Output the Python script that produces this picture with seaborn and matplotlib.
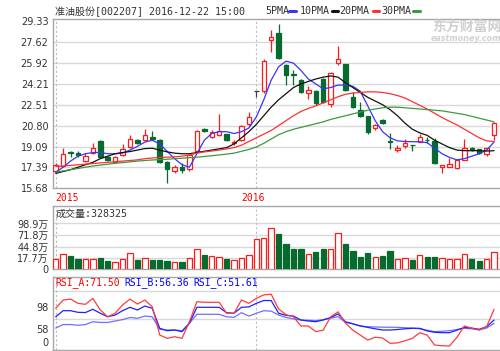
import numpy as np
import pandas as pd
import matplotlib
matplotlib.use("Agg")
import matplotlib.pyplot as plt
import matplotlib.transforms as mtrans
from matplotlib.lines import Line2D
import seaborn as sns

# =========================================================
# DONNÉES
# =========================================================
opens = [17.11, 17.50, 18.63, 18.58, 17.93, 18.53, 19.56, 18.26, 17.81, 18.39,
         19.07, 19.62, 19.62, 19.89, 19.62, 17.81, 17.09, 17.39, 17.23, 18.74,
         20.54, 19.89, 20.02, 20.08, 19.35, 19.62, 20.89, 23.60, 23.65, 27.78,
         28.36, 25.73, 25.00, 24.50, 23.44, 23.62, 24.58, 22.52, 25.93, 25.81,
         23.15, 22.03, 21.56, 20.59, 21.24, 19.50, 18.81, 19.13, 19.22, 19.48,
         19.64, 19.55, 17.44, 17.44, 17.31, 17.99, 19.00, 18.86, 18.48, 20.05]
closes = [17.58, 18.48, 18.58, 18.39, 18.34, 19.00, 18.26, 17.99, 18.26, 18.86,
          19.67, 19.35, 20.02, 19.70, 17.81, 17.24, 17.44, 17.17, 18.39, 20.35,
          20.37, 20.29, 20.37, 19.62, 19.48, 20.76, 21.46, 23.60, 26.10, 28.00,
          26.33, 24.92, 24.94, 23.55, 23.71, 22.61, 22.69, 25.10, 26.26, 23.70,
          22.33, 21.62, 20.25, 20.81, 20.97, 19.45, 19.00, 19.35, 19.18, 19.84,
          19.60, 17.72, 17.58, 17.64, 17.99, 19.00, 18.80, 18.53, 18.94, 21.00]
highs = [17.77, 18.94, 18.72, 18.74, 18.60, 19.35, 19.60, 18.35, 18.35, 19.28,
         20.02, 19.70, 20.51, 20.37, 19.70, 17.90, 17.60, 17.72, 18.50, 20.40,
         20.60, 20.45, 21.73, 20.15, 19.62, 20.85, 21.93, 23.62, 26.20, 28.60,
         29.07, 25.80, 25.33, 24.60, 24.03, 23.70, 24.65, 25.15, 27.30, 25.85,
         23.55, 22.74, 21.60, 20.95, 21.30, 20.17, 19.21, 19.67, 19.25, 20.10,
         19.89, 19.75, 17.60, 18.17, 18.05, 19.67, 19.05, 18.90, 19.00, 21.05]
lows = [16.90, 17.44, 18.26, 18.26, 17.85, 18.45, 18.20, 17.90, 17.75, 18.35,
        19.00, 19.30, 19.55, 19.60, 17.72, 16.14, 16.95, 16.90, 17.10, 18.70,
        20.30, 19.80, 19.95, 19.50, 19.20, 19.55, 20.80, 23.13, 23.47, 26.80,
        26.20, 24.10, 24.10, 23.45, 23.00, 22.50, 22.60, 22.33, 25.73, 23.60,
        22.25, 21.50, 20.15, 20.45, 20.90, 18.90, 18.67, 18.94, 18.74, 19.45,
        19.35, 17.65, 16.90, 17.40, 17.28, 17.95, 18.70, 18.45, 18.30, 19.60]

ma5 = [17.0, 17.4, 17.9, 18.3, 18.5, 18.6, 18.6, 18.5, 18.5, 18.55,
       18.8, 19.1, 19.45, 19.6, 19.3, 18.7, 18.1, 17.6, 17.4, 18.5,
       19.6, 20.15, 20.3, 20.3, 20.15, 20.3, 20.6, 21.5, 22.9, 24.5,
       25.6, 26.05, 25.9, 25.3, 24.6, 24.2, 23.8, 23.9, 24.1, 24.1,
       24.0, 23.6, 22.4, 21.2, 20.3, 19.8, 19.55, 19.5, 19.48, 19.48,
       19.4, 18.95, 18.5, 18.2, 18.0, 18.1, 18.3, 18.5, 18.8, 19.45]
ma10 = [16.9, 17.05, 17.2, 17.4, 17.6, 17.8, 18.1, 18.3, 18.5, 18.6,
        18.68, 18.8, 18.92, 18.95, 18.8, 18.65, 18.55, 18.5, 18.5, 18.6,
        18.7, 18.8, 18.9, 19.0, 19.3, 19.8, 20.3, 20.9, 21.6, 22.3,
        22.9, 23.4, 23.9, 24.2, 24.4, 24.6, 24.75, 24.85, 24.75, 24.3,
        23.9, 23.5, 23.1, 22.8, 22.5, 22.1, 21.6, 21.0, 20.5, 20.2,
        20.0, 19.6, 19.3, 19.0, 18.8, 18.75, 18.75, 18.75, 18.72, 18.75]
ma20 = [17.45, 17.5, 17.55, 17.6, 17.65, 17.7, 17.75, 17.8, 17.85, 17.9,
        17.95, 18.0, 18.1, 18.15, 18.2, 18.22, 18.25, 18.3, 18.4, 18.55,
        18.65, 18.72, 18.8, 18.9, 19.0, 19.2, 19.5, 19.8, 20.1, 20.4,
        20.8, 21.2, 21.6, 21.95, 22.2, 22.4, 22.65, 22.9, 23.15, 23.35,
        23.45, 23.5, 23.55, 23.55, 23.5, 23.4, 23.25, 23.05, 22.75, 22.45,
        22.15, 21.8, 21.45, 21.15, 20.85, 20.5, 20.15, 19.8, 19.55, 19.5]
ma30 = [17.0, 17.1, 17.2, 17.3, 17.4, 17.5, 17.57, 17.65, 17.72, 17.78,
        17.84, 17.9, 17.95, 17.99, 18.02, 18.05, 18.1, 18.13, 18.18, 18.22,
        18.28, 18.34, 18.4, 18.47, 18.55, 18.7, 18.85, 19.05, 19.35, 19.7,
        20.05, 20.3, 20.5, 20.65, 20.8, 20.95, 21.1, 21.3, 21.45, 21.6,
        21.75, 21.9, 22.05, 22.15, 22.25, 22.3, 22.3, 22.25, 22.2, 22.15,
        22.1, 22.05, 22.0, 21.9, 21.8, 21.7, 21.55, 21.4, 21.25, 21.1]

# volume en 万
volume = [15.4, 27.7, 23.8, 16.1, 16.1, 16.1, 19.1, 12.1, 9.8, 16.1,
          29.4, 13.8, 19.1, 14.5, 14.5, 12.1, 9.1, 9.8, 19.1, 38.7,
          26.1, 23.1, 21.4, 15.4, 13.1, 19.1, 25.4, 62.0, 64.3, 87.6,
          74.4, 51.0, 39.4, 39.4, 27.7, 32.4, 38.7, 38.7, 77.4, 51.0,
          35.4, 21.4, 30.8, 21.4, 23.8, 34.7, 16.9, 18.4, 14.9, 26.1,
          19.6, 21.4, 19.1, 16.8, 16.8, 28.2, 17.2, 12.1, 17.2, 32.8]

rsi_a = [73, 84.7, 86, 80, 78.6, 87, 70.6, 61, 66, 77.7,
         86, 79, 84.7, 75, 35.2, 30.5, 32.8, 30.5, 54, 82.3,
         81.5, 81.5, 81.5, 66, 66, 84.7, 80, 87, 92, 93,
         72, 64, 61, 48, 48, 40, 42, 61, 68, 52,
         42, 35, 28, 32, 31, 23.5, 24, 27, 30.5, 38.5,
         35, 21, 20, 19.7, 32, 48, 44.7, 42.3, 47, 71.5]
rsi_b = [61, 69.6, 69.6, 67.3, 67, 71.6, 66, 61, 63.5, 69.6,
         74.4, 70.6, 76.2, 73, 44.7, 41.3, 42.3, 39.9, 51.8, 74.4,
         74.4, 74.4, 74.4, 66.8, 66, 74.4, 75, 80, 84, 84,
         66, 63, 62, 56.4, 55, 54, 56.4, 60, 64.9, 54,
         51, 48, 46, 44, 42.3, 42.3, 43, 44, 44.7, 44.7,
         40.9, 39, 38.5, 38.5, 42, 46.1, 45, 43.3, 47, 56.36]
rsi_c = [45, 50, 50, 49, 50, 54, 53, 53, 55, 57,
         60, 58.8, 62, 61, 43.3, 42.3, 42.3, 41.3, 51.8, 64.5,
         64.5, 64.5, 64.5, 61, 60.2, 66.8, 62, 66, 69.6, 69,
         63.5, 60, 58, 56.4, 56, 55.4, 57, 59, 61.1, 53,
         51, 48, 47, 46.5, 46.3, 46.2, 46.1, 45.5, 45, 44,
         42, 40, 40.5, 41.3, 43, 44.7, 44, 42.5, 45, 51.61]

price_ticks = [15.68, 17.39, 19.09, 20.80, 22.51, 24.21, 25.92, 27.62, 29.33]
vol_ticks = [17.7, 44.8, 71.8, 98.9]
vol_tick_labels = ["0", "17.7万", "44.8万", "71.8万", "98.9万"]
rsi_grid = [58, 98]
rsi_tick_labels = ["98", "58", "0"]
year_labels = ["2015", "2016"]
year_idx = [0, 27]

title = "准油股份[002207] 2016-12-22 15:00"
vol_title = "成交量:328325"
rsi_titles = ["RSI_A:71.50", "RSI_B:56.36", "RSI_C:51.61"]

# =========================================================
# STYLE
# =========================================================
sns.set_theme(style="white")
plt.rcParams["font.family"] = ["DejaVu Sans", "Noto Sans CJK SC"]
MONO = ["DejaVu Sans Mono", "Noto Sans CJK SC"]

RED = "#ff1a1a"
GREEN = "#076b2f"
GRID = "#d9d9d9"
SPINE = "#a8a8a8"
TXT = "#333333"

idx = np.arange(len(opens))
o = np.array(opens); c = np.array(closes)
h = np.array(highs); l = np.array(lows)
prev = np.r_[o[0], c[:-1]]
up = (c > o) | ((c == o) & (c >= prev))
doji = np.isclose(c, o)

W, H = 500, 351
fig = plt.figure(figsize=(W / 100, H / 100), dpi=100)


def px_axes(left, top, right, bottom):
    return fig.add_axes([left / W, 1 - bottom / H, (right - left) / W, (bottom - top) / H])


ax_p = px_axes(52.7, 19.3, 502, 188.3)
ax_v = px_axes(52.7, 206, 502, 269.3)
ax_r = px_axes(52.7, 276.7, 502, 350)

x0 = (52.7 - 55.7) / 7.43
x1 = x0 + (502 - 52.7) / 7.43
for ax in (ax_p, ax_v, ax_r):
    ax.set_xlim(x0, x1)
    ax.set_xticks([])
    for s in ["left", "top", "bottom"]:
        ax.spines[s].set_color(SPINE)
        ax.spines[s].set_linewidth(1)
    ax.spines["right"].set_visible(False)
    ax.tick_params(axis="y", length=0, pad=3, labelsize=7, labelcolor=TXT)
    for yi in year_idx:
        ax.axvline(yi, color="#bdbdbd", lw=0.8, ls=(0, (2, 2)), zorder=0.5)

# =========================================================
# PRIX : bougies + moyennes mobiles
# =========================================================
ax_p.set_ylim(15.68, 29.47)
ax_p.set_yticks(price_ticks)
ax_p.set_yticklabels([f"{t:.2f}" for t in price_ticks])
for t in price_ticks[1:-1]:
    ax_p.axhline(t, color=GRID, lw=1, zorder=0.3)

ax_p.vlines(idx, l, h, colors=np.where(doji, "#404040", np.where(up, RED, GREEN)), lw=0.9, zorder=2)
body_b = np.minimum(o, c)
body_h = np.abs(c - o)
face = np.where(doji, "#404040", np.where(up, "white", GREEN))
edge = np.where(doji, "#404040", np.where(up, RED, GREEN))
ax_p.bar(idx, body_h, bottom=body_b, width=0.6, color=face, edgecolor=edge, linewidth=0.9, zorder=3)

ma_df = pd.DataFrame({"idx": idx, "MA5": ma5, "MA10": ma10, "MA20": ma20, "MA30": ma30})
ma_colors = {"MA5": "#3535ff", "MA10": "#111111", "MA20": "#ff3030", "MA30": "#3c9a3c"}
for col, colr in ma_colors.items():
    sns.lineplot(data=ma_df, x="idx", y=col, ax=ax_p, color=colr, linewidth=0.9, zorder=4, legend=False)
ax_p.set_xlabel(""); ax_p.set_ylabel("")

trans = mtrans.blended_transform_factory(ax_p.transData, ax_p.transAxes)
ax_p.text(year_idx[0], -0.058, year_labels[0], transform=trans, ha="left", va="center",
          color="#ff0000", fontsize=7, family=MONO)
ax_p.text(year_idx[1] - 0.4, -0.058, year_labels[1], transform=trans, ha="center", va="center",
          color="#ff0000", fontsize=7, family=MONO)

# =========================================================
# VOLUME
# =========================================================
# les barres partent du bas du panneau, marqué "0" sur l'original
vol_floor = -7.9
ax_v.set_ylim(vol_floor, 139.6)
ax_v.set_yticks([vol_floor] + vol_ticks)
ax_v.set_yticklabels(vol_tick_labels)
for t in vol_ticks:
    ax_v.axhline(t, color=GRID, lw=1, zorder=0.3)
vol = np.array(volume)
ax_v.bar(idx, vol - vol_floor, bottom=vol_floor, width=0.72,
         color=np.where(up, "white", GREEN), edgecolor=np.where(up, RED, GREEN),
         linewidth=0.9, zorder=3)
fig.text(56 / W, 1 - 214 / H, vol_title, fontsize=7.2, family=MONO, color=TXT, va="center")

# =========================================================
# RSI
# =========================================================
ax_r.set_ylim(14, 117.7)
# positions des étiquettes telles qu'affichées sur l'original
ax_r.set_yticks([74.4, 44.1, 25.7])
ax_r.set_yticklabels(rsi_tick_labels)
for g in rsi_grid:
    ax_r.axhline(g, color=GRID, lw=1, zorder=0.3)
rsi_df = pd.DataFrame({"idx": idx, "A": rsi_a, "B": rsi_b, "C": rsi_c})
for col, colr in {"C": "#6f6fff", "B": "#2020ff", "A": "#ff3b3b"}.items():
    sns.lineplot(data=rsi_df, x="idx", y=col, ax=ax_r, color=colr, linewidth=0.9, zorder=4, legend=False)
ax_r.set_xlabel(""); ax_r.set_ylabel("")
for txt, xp, colr in zip(rsi_titles, [55, 124, 193], ["#ff0000", "#0000ff", "#0000ff"]):
    fig.text(xp / W, 1 - 283 / H, txt, fontsize=7, family=MONO, color=colr, va="center")

# =========================================================
# TITRE, LÉGENDE, FILIGRANE
# =========================================================
fig.text(55 / W, 1 - 11.5 / H, title, fontsize=7.2, family=MONO, color=TXT, va="center")

legend_items = [("5PMA", 265, 289, 296, "#3535ff"),
                ("10PMA", 300, 331.5, 337.5, "#111111"),
                ("20PMA", 339, 372.5, 378.5, "#ff3030"),
                ("30PMA", 381.5, 413, 420, "#3c9a3c")]
for name, xt, xa, xb, colr in legend_items:
    fig.text(xt / W, 1 - 10.5 / H, name, fontsize=7.2, family=MONO, color=TXT, va="center")
    fig.add_artist(Line2D([xa / W, xb / W], [1 - 10.5 / H] * 2, color=colr, lw=2.2))

fig.text(432 / W, 1 - 27 / H, "东方财富网", fontsize=10, color="#cfcfcf",
         family=["Noto Sans CJK SC"], weight="bold", va="center")
fig.text(431 / W, 1 - 38.5 / H, "eastmoney.com", fontsize=5.8, color="#d2d2d2",
         weight="bold", style="italic", va="center")

fig.savefig("out.png", dpi=100, facecolor="white")
